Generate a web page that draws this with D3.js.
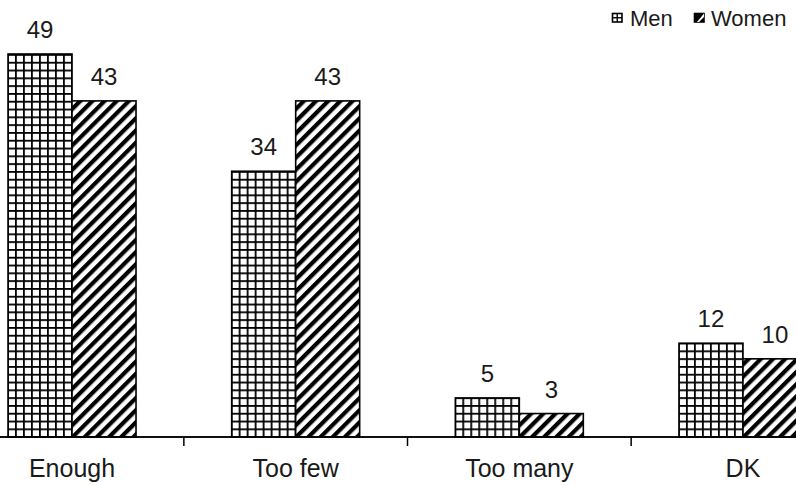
<!DOCTYPE html>
<html><head><meta charset="utf-8">
<script src="https://cdn.jsdelivr.net/npm/d3@7"></script>
<style>
html,body{margin:0;padding:0;background:#fff;}
svg{display:block;}
text{font-family:"Liberation Sans",Arial,sans-serif;fill:#1a1a1a;}
</style></head>
<body>
<script>
const categories = ["Enough", "Too few", "Too many", "DK"];
const seriesNames = ["Men", "Women"];
const men = [49, 34, 5, 12];
const women = [43, 43, 3, 10];

const W = 796, H = 485;
const svg = d3.select("body").append("svg").attr("width", W).attr("height", H);
const defs = svg.append("defs");

// grid pattern (Men)
const pg = defs.append("pattern").attr("id","grid").attr("patternUnits","userSpaceOnUse")
  .attr("width",8).attr("height",7.8).attr("x",7).attr("y",54);
pg.append("rect").attr("width",8).attr("height",7.8).attr("fill","#fff");
pg.append("rect").attr("x",0).attr("y",0).attr("width",1.8).attr("height",7.8).attr("fill","#000");
pg.append("rect").attr("x",0).attr("y",0).attr("width",8).attr("height",1.8).attr("fill","#000");

// diagonal stripe pattern (Women)
const ps = defs.append("pattern").attr("id","stripe").attr("patternUnits","userSpaceOnUse")
  .attr("width",8.6).attr("height",10).attr("patternTransform","rotate(45)");
ps.append("rect").attr("width",8.6).attr("height",10).attr("fill","#fff");
ps.append("rect").attr("x",0).attr("y",0).attr("width",4.2).attr("height",10).attr("fill","#000");

const x0 = d3.scaleBand().domain(categories).range([-39.8, 854.8]).padding(0);
const barW = 64;
const x1 = d3.scaleBand().domain(seriesNames).range([0, barW*2]).padding(0);
const y = d3.scaleLinear().domain([0, 49]).range([437, 54]);
const fills = {Men: "url(#grid)", Women: "url(#stripe)"};

const data = categories.map((c, i) => ({cat: c, vals: [{s:"Men", v:men[i]}, {s:"Women", v:women[i]}]}));

const g = svg.append("g");
const groups = g.selectAll("g.grp").data(data).join("g").attr("class","grp")
  .attr("transform", d => `translate(${x0(d.cat) + x0.bandwidth()/2 - barW},0)`);

groups.selectAll("rect").data(d => d.vals).join("rect")
  .attr("x", d => x1(d.s)).attr("y", d => y(d.v))
  .attr("width", x1.bandwidth()).attr("height", d => y(0) - y(d.v))
  .attr("fill", d => fills[d.s]).attr("stroke","#000").attr("stroke-width",1.6);

groups.selectAll("text").data(d => d.vals).join("text")
  .attr("x", d => x1(d.s) + x1.bandwidth()/2).attr("y", d => y(d.v) - 16)
  .attr("text-anchor","middle").style("font-size","24px").text(d => d.v);

// x axis
const axis = d3.axisBottom(x0).tickSize(0).tickPadding(0).tickFormat("");
const ax = svg.append("g").attr("transform", `translate(0,${y(0)})`).call(axis);
ax.select(".domain").attr("stroke","#000").attr("stroke-width",1.6).attr("d","M0,0H796");
// separator ticks between categories
const sep = categories.slice(1).map(c => x0(c));
ax.selectAll("line.sep").data(sep).join("line").attr("class","sep")
  .attr("x1", d => d).attr("x2", d => d).attr("y1",0).attr("y2",9)
  .attr("stroke","#000").attr("stroke-width",1.5);
ax.selectAll("text.cat").data(categories).join("text").attr("class","cat")
  .attr("x", d => x0(d) + x0.bandwidth()/2).attr("y", 40)
  .attr("text-anchor","middle").style("font-size","25px").text(d => d);
svg.append("line").attr("x1",0).attr("x2",W).attr("y1",y(0)).attr("y2",y(0)).attr("stroke","#000").attr("stroke-width",1.6);

// legend
const leg = svg.append("g");
leg.append("rect").attr("x",612.5).attr("y",13.5).attr("width",9.5).attr("height",8.5).attr("fill","#fff").attr("stroke","#000").attr("stroke-width",1.6);
leg.append("line").attr("x1",617.25).attr("x2",617.25).attr("y1",13.5).attr("y2",22).attr("stroke","#000").attr("stroke-width",1.4);
leg.append("line").attr("x1",612.5).attr("x2",622).attr("y1",17.75).attr("y2",17.75).attr("stroke","#000").attr("stroke-width",1.4);
leg.append("text").attr("x",630).attr("y",26).style("font-size","22px").text(seriesNames[0]);
leg.append("rect").attr("x",694.5).attr("y",13.5).attr("width",9.5).attr("height",8.5).attr("fill","#000").attr("stroke","#000").attr("stroke-width",1.6);
leg.append("path").attr("d","M704,13.5 L704,17 L699,22 L697,22 Z").attr("fill","#fff");
leg.append("text").attr("x",711).attr("y",26).style("font-size","22px").text(seriesNames[1]);
</script>
</body></html>
